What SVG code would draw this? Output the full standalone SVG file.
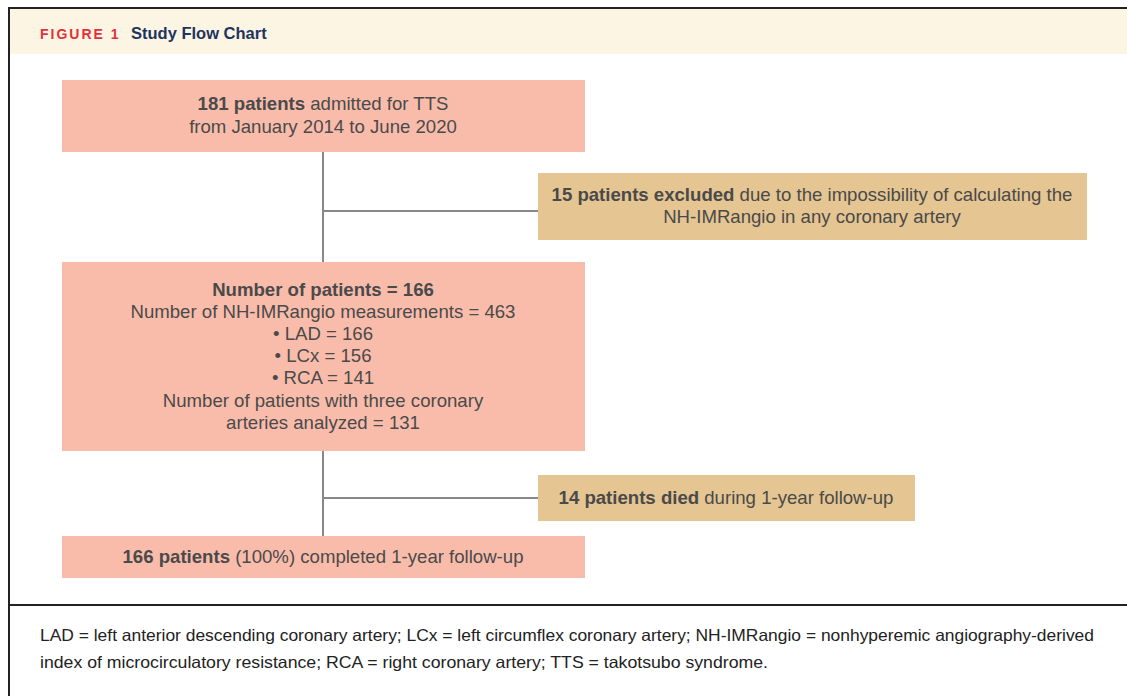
<svg xmlns="http://www.w3.org/2000/svg" width="1127" height="696" viewBox="0 0 1127 696">
<style>
.t{font-family:"Liberation Sans",Arial,sans-serif;font-size:18.6px;fill:#4a4a4a;text-anchor:middle}
.b{font-weight:bold}
.pink{fill:#f9bcab}
.tan{fill:#e5c591}
.c{stroke:#888;stroke-width:2;fill:none}
.f{font-family:"Liberation Sans",Arial,sans-serif;font-size:16.5px;fill:#222}
</style>
<rect x="0" y="0" width="1127" height="696" fill="#fff"/>
<rect x="9" y="9" width="1118" height="45" fill="#fdf5e3"/>
<path d="M9 696V8H1127" stroke="#222" stroke-width="2" fill="none"/>
<line x1="9" y1="605" x2="1127" y2="605" stroke="#222" stroke-width="2"/>
<text x="40" y="39" font-family="Liberation Sans,Arial,sans-serif" font-size="14" font-weight="bold" fill="#e2303a" letter-spacing="2">FIGURE 1</text>
<text x="131" y="39" font-family="Liberation Sans,Arial,sans-serif" font-size="16.5" font-weight="bold" fill="#1d3461">Study Flow Chart</text>
<g id="connectors">
<line class="c" x1="323" y1="152" x2="323" y2="262"/>
<line class="c" x1="323" y1="211" x2="538" y2="211"/>
<line class="c" x1="323" y1="451" x2="323" y2="536"/>
<line class="c" x1="323" y1="498" x2="538" y2="498"/>
</g>
<g id="n1">
<rect class="pink" x="62" y="80" width="523" height="72"/>
<text class="t" x="323" y="110"><tspan class="b">181 patients</tspan> admitted for TTS</text>
<text class="t" x="323" y="133">from January 2014 to June 2020</text>
</g>
<g id="n2">
<rect class="tan" x="538" y="173" width="549" height="67"/>
<text class="t" x="812" y="201"><tspan class="b">15 patients excluded</tspan> due to the impossibility of calculating the</text>
<text class="t" x="812" y="223">NH-IMRangio in any coronary artery</text>
</g>
<g id="n3">
<rect class="pink" x="62" y="262" width="523" height="189"/>
<text class="t b" x="323" y="296">Number of patients = 166</text>
<text class="t" x="323" y="318">Number of NH-IMRangio measurements = 463</text>
<text class="t" x="323" y="340">• LAD = 166</text>
<text class="t" x="323" y="362">• LCx = 156</text>
<text class="t" x="323" y="384">• RCA = 141</text>
<text class="t" x="323" y="407">Number of patients with three coronary</text>
<text class="t" x="323" y="429">arteries analyzed = 131</text>
</g>
<g id="n4">
<rect class="tan" x="538" y="475" width="377" height="46"/>
<text class="t" x="726" y="504"><tspan class="b">14 patients died</tspan> during 1-year follow-up</text>
</g>
<g id="n5">
<rect class="pink" x="62" y="536" width="523" height="42"/>
<text class="t" x="323" y="563"><tspan class="b">166 patients</tspan> (100%) completed 1-year follow-up</text>
</g>
<text class="f" x="40" y="641" textLength="1054" lengthAdjust="spacingAndGlyphs">LAD = left anterior descending coronary artery; LCx = left circumflex coronary artery; NH-IMRangio = nonhyperemic angiography-derived</text>
<text class="f" x="40" y="668" textLength="728" lengthAdjust="spacingAndGlyphs">index of microcirculatory resistance; RCA = right coronary artery; TTS = takotsubo syndrome.</text>
</svg>
